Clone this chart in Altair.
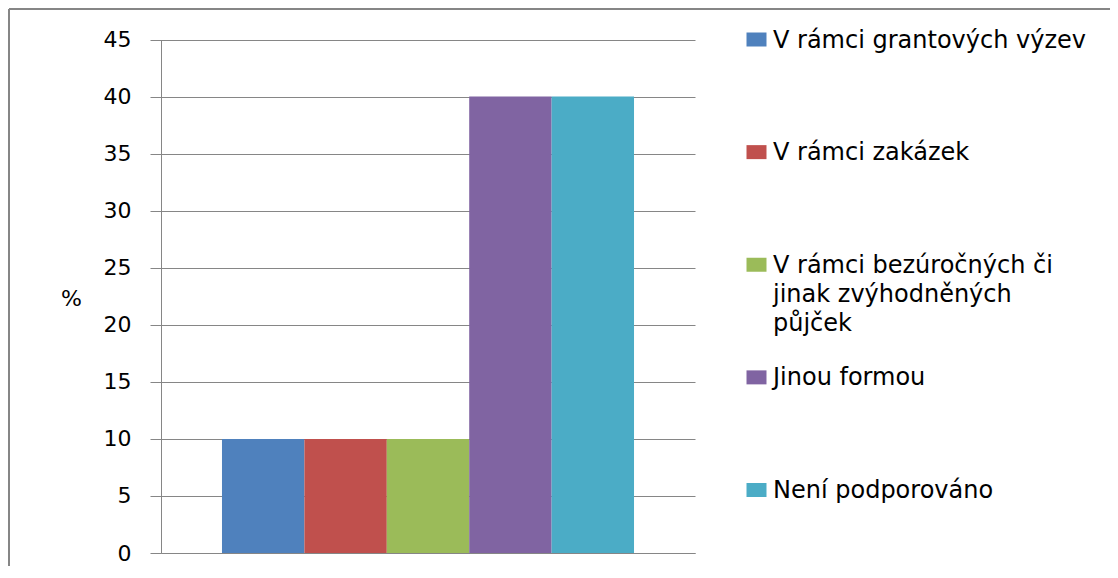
import altair as alt
import pandas as pd

categories = [
    "V rámci grantových výzev",
    "V rámci zakázek",
    "V rámci bezúročných či jinak zvýhodněných půjček",
    "Jinou formou",
    "Není podporováno",
]
values = [10, 10, 10, 40, 40]
legend_labels = [
    "V rámci grantových výzev",
    "V rámci zakázek",
    "V rámci bezúročných  či\njinak zvýhodněných\npůjček",
    "Jinou formou",
    "Není podporováno",
]
colors = ["#4F81BD", "#C0504D", "#9BBB59", "#8064A2", "#4BACC6"]
y_ticks = [0, 5, 10, 15, 20, 25, 30, 35, 40, 45]

df = pd.DataFrame({"cat": categories, "val": values, "label": legend_labels})

FONT = "DejaVu Sans"
GRAY = "#868686"

color_enc = alt.Color(
    "cat:N", scale=alt.Scale(domain=categories, range=colors), legend=None
)

bars = alt.Chart(df).mark_bar().encode(
    x=alt.X(
        "cat:N",
        sort=categories,
        scale=alt.Scale(range=[152, 686], paddingInner=0, paddingOuter=0.74),
        axis=alt.Axis(
            title=None, labels=False, ticks=False, domain=True,
            domainColor=GRAY, domainWidth=1, offset=-12, grid=False,
        ),
    ),
    y=alt.Y(
        "val:Q",
        scale=alt.Scale(domain=[0, 45], range=[544, 30.5], nice=False, zero=True),
        axis=alt.Axis(
            values=y_ticks, title="%", titleAngle=0, titleX=-90, titleY=289,
            titleAlign="center", titleBaseline="middle", titleFont=FONT,
            titleFontSize=22, titleFontWeight="normal", titleColor="black",
            offset=-152, tickSize=11, tickColor=GRAY, labelPadding=19,
            labelFont=FONT, labelFontSize=22, labelColor="black",
            domainColor=GRAY, grid=True, gridColor=GRAY, gridOpacity=1,
        ),
    ),
    color=color_enc,
)

leg_y = alt.Y(
    "cat:N", sort=categories,
    scale=alt.Scale(type="point", range=[30.5, 481], padding=0), axis=None,
)

legend_sym = alt.Chart(df).mark_point(
    shape="M-1,-0.7H1V0.7H-1Z", filled=True, size=400, opacity=1, strokeWidth=0
).encode(x=alt.value(747.5), y=leg_y, color=color_enc)

legend_txt = alt.Chart(df).mark_text(
    align="left", baseline="top", dy=-11, lineBreak="\n", font=FONT,
    fontSize=24, lineHeight=29, color="black",
).encode(x=alt.value(764), y=leg_y, text="label:N")

frame = pd.DataFrame({"k": [0]})
border_left = alt.Chart(frame).mark_rule(color=GRAY, strokeWidth=2).encode(
    x=alt.value(0), y=alt.value(0), y2=alt.value(560)
)
border_top = alt.Chart(frame).mark_rule(color=GRAY, strokeWidth=2).encode(
    y=alt.value(0), x=alt.value(0), x2=alt.value(1110)
)

chart = alt.layer(
    bars, alt.layer(legend_sym, legend_txt), border_left, border_top
).resolve_scale(
    y="independent"
).properties(
    width=1100, height=556, padding=1, autosize=alt.AutoSizeParams(type="none"),
    background="white",
).configure_view(stroke=None)

chart.save("out.html", embed_options={"renderer": "svg", "actions": False})
